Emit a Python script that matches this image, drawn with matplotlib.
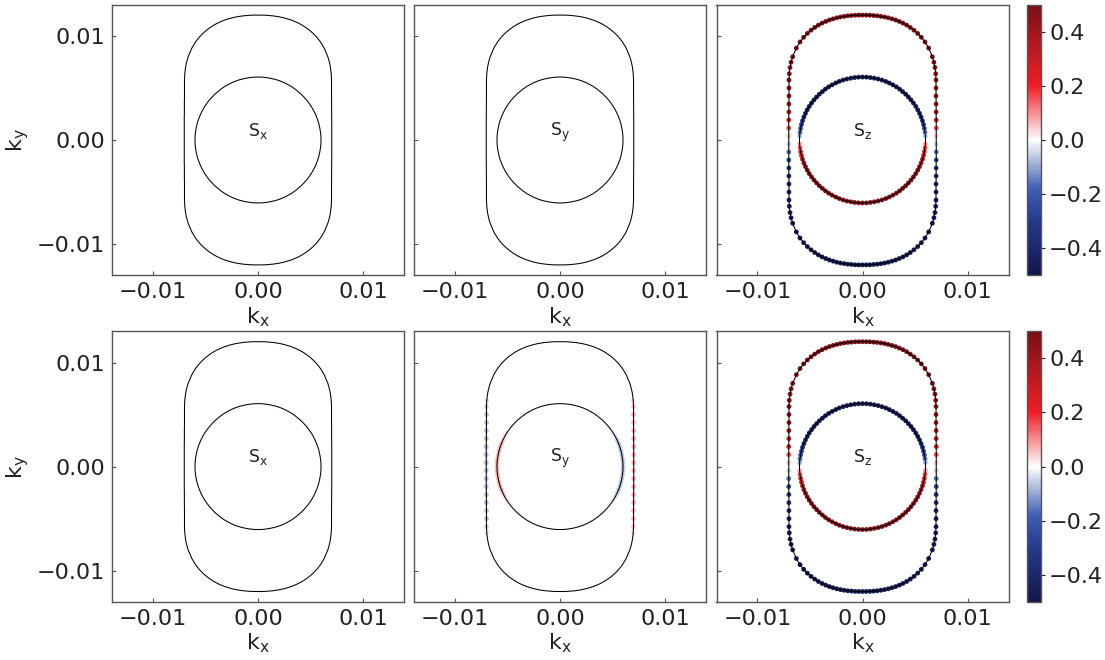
import numpy as np
import matplotlib
matplotlib.use("Agg")
import matplotlib.pyplot as plt
from matplotlib.colors import LinearSegmentedColormap, Normalize
from matplotlib.patches import Polygon

# ---------------- data (first quadrant, ordered from top (kx=0) to side (ky~0)) ----------------
outer_kx_q = [0.0000, 0.00035, 0.0007, 0.00105, 0.0014, 0.00175, 0.0021, 0.00245, 0.0028,
              0.00315, 0.0035, 0.00385, 0.0042, 0.00455, 0.0049, 0.00525, 0.0056, 0.00595,
              0.0063, 0.00665, 0.0068, 0.0069, 0.00697, 0.0070, 0.0070, 0.0070, 0.00701,
              0.00701, 0.00702, 0.00702, 0.00702]
outer_ky_q = [0.01200, 0.01200, 0.01199, 0.01196, 0.01193, 0.01188, 0.01182, 0.01174, 0.01164,
              0.01153, 0.01139, 0.01123, 0.01104, 0.01081, 0.01055, 0.01024, 0.00987, 0.00942,
              0.00883, 0.00800, 0.00747, 0.00697, 0.00637, 0.00577, 0.00500, 0.00423, 0.00346,
              0.00269, 0.00192, 0.00115, 0.00038]
outer_sz_q = [0.47, 0.47, 0.47, 0.47, 0.47, 0.47, 0.47, 0.47, 0.47,
              0.47, 0.47, 0.47, 0.47, 0.47, 0.47, 0.47, 0.47, 0.46,
              0.46, 0.45, 0.45, 0.44, 0.44, 0.43, 0.42, 0.40, 0.37,
              0.32, 0.26, 0.16, 0.05]
outer_sy_q = [0.0, 0.0, 0.0, 0.0, 0.0, 0.0, 0.0, 0.0, 0.0,
              0.0, 0.0, 0.0, 0.0, 0.0, 0.0, 0.0, 0.0, 0.0,
              0.0, 0.0, 0.0, 0.0, 0.03, 0.05, 0.07, 0.07, 0.07,
              0.07, 0.07, 0.07, 0.07]

inner_kx_q = [0.00000, 0.00038, 0.00075, 0.00112, 0.00149, 0.00185, 0.00221, 0.00255, 0.00289,
              0.00322, 0.00353, 0.00382, 0.00411, 0.00437, 0.00462, 0.00485, 0.00507, 0.00526,
              0.00543, 0.00558, 0.00571, 0.00581, 0.00589, 0.00595, 0.00599, 0.00600]
inner_ky_q = [0.00605, 0.00604, 0.00600, 0.00594, 0.00586, 0.00576, 0.00563, 0.00548, 0.00530,
              0.00511, 0.00489, 0.00465, 0.00440, 0.00413, 0.00385, 0.00355, 0.00323, 0.00290,
              0.00256, 0.00221, 0.00185, 0.00149, 0.00112, 0.00075, 0.00038, 0.00000]
inner_sz_q = [-0.46, -0.46, -0.46, -0.46, -0.46, -0.46, -0.46, -0.46, -0.46,
              -0.46, -0.46, -0.46, -0.46, -0.46, -0.46, -0.45, -0.45, -0.44,
              -0.42, -0.40, -0.36, -0.30, -0.24, -0.16, -0.08, 0.0]
inner_sy_q = [0.0, 0.0, 0.0, 0.0, 0.0, 0.0, 0.0, 0.0, 0.0,
              0.0, 0.0, 0.0, 0.0, 0.0, 0.0, 0.0, -0.02, -0.03,
              -0.05, -0.06, -0.06, -0.06, -0.06, -0.06, -0.06, -0.06]

panel_labels = [["S$_\\mathrm{x}$", "S$_\\mathrm{y}$", "S$_\\mathrm{z}$"],
                ["S$_\\mathrm{x}$", "S$_\\mathrm{y}$", "S$_\\mathrm{z}$"]]
x_ticks = [-0.01, 0.00, 0.01]
y_ticks = [-0.01, 0.00, 0.01]
x_ticklabels = ["\u22120.01", "0.00", "0.01"]
y_ticklabels = ["\u22120.01", "0.00", "0.01"]
cbar_ticks = [-0.4, -0.2, 0.0, 0.2, 0.4]


def full_contour(qx, qy, qv, px, py):
    """Close a quadrant curve with the mirror symmetry of the spin component.
    px/py: parity of the value under kx->-kx and ky->-ky."""
    qx, qy, qv = np.asarray(qx), np.asarray(qy), np.asarray(qv)
    x = np.concatenate([qx, qx[::-1], -qx, -qx[::-1]])
    y = np.concatenate([qy, -qy[::-1], -qy, qy[::-1]])
    v = np.concatenate([qv, py * qv[::-1], px * py * qv, px * qv[::-1]])
    # drop points repeated on the symmetry axes
    keep = np.ones(len(x), dtype=bool)
    keep[1:] = (np.abs(np.diff(x)) > 1e-12) | (np.abs(np.diff(y)) > 1e-12)
    x, y, v = x[keep], y[keep], v[keep]
    if abs(x[0] - x[-1]) < 1e-12 and abs(y[0] - y[-1]) < 1e-12:
        x, y, v = x[:-1], y[:-1], v[:-1]
    return x, y, v


zeros_o = [0.0] * len(outer_kx_q)
zeros_i = [0.0] * len(inner_kx_q)

# component per panel: (outer values, inner values, px, py)
panel_data = [
    [(zeros_o, zeros_i, 1, 1), (zeros_o, zeros_i, 1, 1), (outer_sz_q, inner_sz_q, 1, -1)],
    [(zeros_o, zeros_i, 1, 1), (outer_sy_q, inner_sy_q, -1, 1), (outer_sz_q, inner_sz_q, 1, -1)],
]

cmap = LinearSegmentedColormap.from_list(
    "spin", [(0.0, "#12164a"), (0.2, "#263a8a"), (0.32, "#3f5fb0"), (0.5, "#ffffff"),
             (0.7, "#ec1f26"), (0.85, "#b31a20"), (1.0, "#781015")])
norm = Normalize(-0.5, 0.5)

W, H = 1105, 660
fig = plt.figure(figsize=(W / 100, H / 100), dpi=100)

col_left = [112, 414, 716.5]
row_top = [4.7, 331.3]
ax_w, ax_h = 292, 270.6

spine_col = "#555555"
text_col = "#222222"

for r in range(2):
    for c in range(3):
        ax = fig.add_axes([col_left[c] / W, 1 - (row_top[r] + ax_h) / H, ax_w / W, ax_h / H])
        ov, iv, px, py = panel_data[r][c]
        for qx, qy, qv in [(outer_kx_q, outer_ky_q, ov), (inner_kx_q, inner_ky_q, iv)]:
            x, y, v = full_contour(qx, qy, qv, px, py)
            ax.scatter(x, y, c=v, cmap=cmap, norm=norm, s=12, linewidths=0, zorder=2)
            ax.add_patch(Polygon(np.column_stack([x, y]), closed=True, fill=False,
                                 edgecolor="black", lw=0.75, joinstyle="round", zorder=3))
        ax.text(0.0, 0.0004, panel_labels[r][c], ha="center", va="baseline",
                fontsize=12.5, color=text_col)
        ax.set_xlim(-0.0139, 0.0139)
        ax.set_ylim(-0.013, 0.013)
        ax.set_xticks(x_ticks)
        ax.set_xticklabels(x_ticklabels)
        ax.set_yticks(y_ticks)
        if c == 0:
            ax.set_yticklabels(y_ticklabels)
            ax.set_ylabel("k$_\\mathrm{y}$", fontsize=16, color=text_col, labelpad=4)
        else:
            ax.set_yticklabels([])
        ax.set_xlabel("k$_\\mathrm{x}$", fontsize=16, color=text_col, labelpad=2)
        ax.tick_params(direction="in", length=3, width=0.8, labelsize=16,
                       colors=spine_col, labelcolor=text_col, pad=5)
        for s in ax.spines.values():
            s.set_color(spine_col)
            s.set_linewidth(1.0)
        if c == 2:
            cax = fig.add_axes([1026.7 / W, 1 - (row_top[r] + ax_h) / H, 14 / W, ax_h / H])
            sm = plt.cm.ScalarMappable(norm=norm, cmap=cmap)
            cb = fig.colorbar(sm, cax=cax, ticks=cbar_ticks)
            cb.ax.set_yticklabels(["\u22120.4", "\u22120.2", "0.0", "0.2", "0.4"])
            cb.ax.tick_params(direction="out", length=3, width=0.8, labelsize=16,
                              colors=text_col, labelcolor=text_col, pad=3)
            cb.outline.set_edgecolor(spine_col)
            cb.outline.set_linewidth(1.0)

fig.savefig("out.png", dpi=100)
